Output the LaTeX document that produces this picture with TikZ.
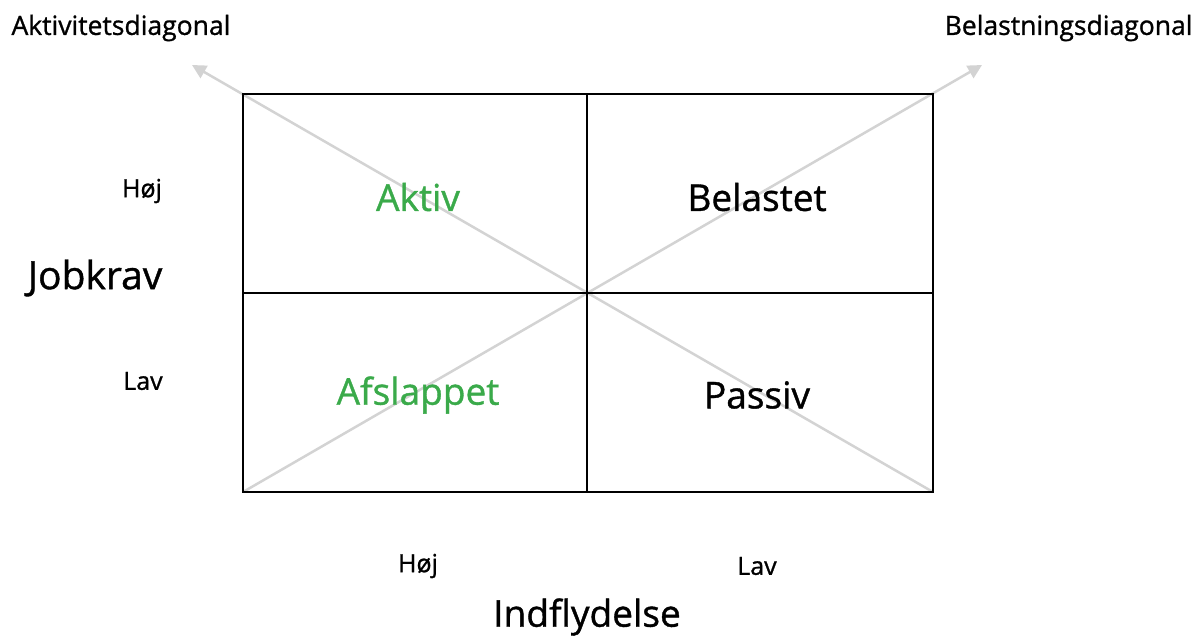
\documentclass[tikz,border=0pt]{standalone}
\usepackage{fontspec}
\setmainfont{Open Sans}
\newfontfamily\medfont{Open Sans}[FakeBold=1.0]
\usetikzlibrary{arrows.meta}
\definecolor{grn}{HTML}{3AAA4A}
\definecolor{lg}{HTML}{D3D3D3}
\tikzset{
  diag/.style={draw=lg, line width=2.5pt},
  diagarrow/.style={diag, -{Triangle[length=14pt,width=14pt]}},
  grid/.style={draw=black, line width=2.6pt},
  small/.style={font=\medfont\fontsize{26.5}{30}\selectfont},
  mid/.style={font=\medfont\fontsize{25}{29}\selectfont},
  big/.style={font=\medfont\fontsize{37}{42}\selectfont},
  bigger/.style={font=\medfont\fontsize{39}{44}\selectfont},
}
\begin{document}
\begin{tikzpicture}[x=1pt,y=-1pt]
\useasboundingbox (0,0) rectangle (1204,635);
\coordinate (tl) at (243,94);
\coordinate (tr) at (933,94);
\coordinate (bl) at (243,492);
\coordinate (br) at (933,492);
\coordinate (aend) at (192,65);
\coordinate (bend) at (982,65);
\draw[diagarrow] (br) -- (aend);
\draw[diagarrow] (bl) -- (bend);
\draw[grid] (tl) rectangle (br);
\coordinate (tm) at (587,94);
\coordinate (bm) at (587,492);
\coordinate (lm) at (243,293);
\coordinate (rm) at (933,293);
\draw[grid] (tm) -- (bm);
\draw[grid] (lm) -- (rm);
\node[small, anchor=west] (ad) at (8,28) {Aktivitetsdiagonal};
\node[small, anchor=east] (bd) at (1196,28) {Belastningsdiagonal};
\node[mid] (hoj1) at (142,191) {Høj};
\node[bigger] (jk) at (95,278) {Jobkrav};
\node[mid] (lav1) at (143,381) {Lav};
\node[big, text=grn] (akt) at (418,197) {Aktiv};
\node[big] (bel) at (757,197) {Belastet};
\node[big, text=grn] (afs) at (418,395) {Afslappet};
\node[big] (pas) at (757,395) {Passiv};
\node[mid] (hoj2) at (418,566) {Høj};
\node[mid] (lav2) at (757,566) {Lav};
\node[big] (ind) at (587,617) {Indflydelse};
\end{tikzpicture}
\end{document}
